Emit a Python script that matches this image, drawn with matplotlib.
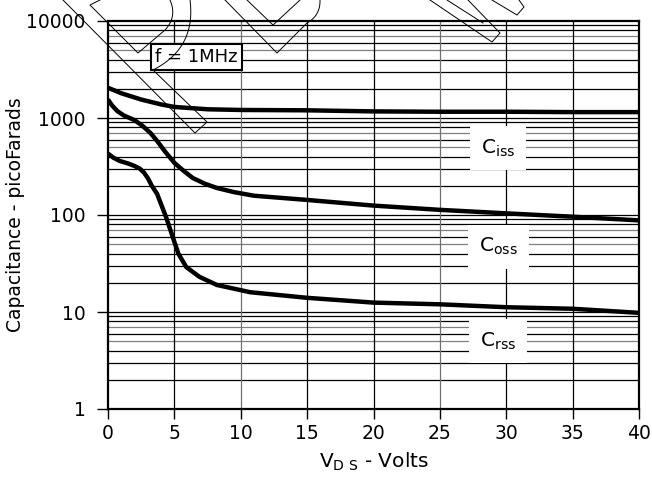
import numpy as np
import matplotlib
matplotlib.use("Agg")
import matplotlib.pyplot as plt
from matplotlib.lines import Line2D

plt.rcParams['font.family'] = ['DejaVu Sans']
plt.rcParams['mathtext.fontset'] = 'dejavusans'

# ---- data ----
vds_iss = [0, 1, 2.5, 4, 5, 7.5, 10, 15, 20, 25, 30, 35, 40]
ciss = [2050, 1800, 1550, 1380, 1300, 1230, 1210, 1200, 1170, 1160, 1160, 1150, 1150]

vds_oss = [0, 0.3, 0.7, 1.2, 2, 2.6, 3.2, 3.7, 4.3, 5, 5.7, 6.4, 7.3, 8.2, 9.5, 11, 15, 20, 25, 30, 35, 40]
coss = [1550, 1350, 1180, 1060, 950, 830, 700, 580, 450, 345, 285, 240, 210, 190, 172, 158, 143, 125, 113, 104, 96, 88]

vds_rss = [0, 0.4, 0.9, 1.5, 2.0, 2.4, 2.7, 3.0, 3.3, 3.7, 4.4, 4.9, 5.3, 5.9, 6.9, 8.2, 10.7, 15, 20, 25, 30, 35, 40]
crss = [430, 390, 360, 340, 320, 300, 275, 240, 200, 165, 93, 58, 40, 29, 23, 19, 16, 14, 12.5, 12, 11.2, 10.8, 9.8]

x_ticks = [0, 5, 10, 15, 20, 25, 30, 35, 40]
y_ticks = [1, 10, 100, 1000, 10000]
y_tick_labels = ['1', '10', '100', '1000', '10000']

labels = [r'C$_{\mathrm{iss}}$', r'C$_{\mathrm{oss}}$', r'C$_{\mathrm{rss}}$']
label_x = 29.4
label_y = [490, 47, 5]

W, H = 652, 480
fig = plt.figure(figsize=(W / 100, H / 100), dpi=100)
L, R, T, B = 108, 639, 21, 409
ax = fig.add_axes([L / W, 1 - B / H, (R - L) / W, (B - T) / H])
ax.set_yscale('log')
ax.set_xlim(0, 40)
ax.set_ylim(1, 10000)

# grid: minor horizontal lines, vertical lines at 5 V
for dec in [1, 10, 100, 1000]:
    for m in range(2, 10):
        col = '#808080' if m in (5, 7) else 'black'
        ax.axhline(dec * m, color=col, lw=0.9, zorder=1)
for d in [10, 100, 1000]:
    ax.axhline(d, color='black', lw=0.9, zorder=1)
for xv in x_ticks[1:-1]:
    col = '#707070' if xv in (10, 25) else 'black'
    ax.axvline(xv, color=col, lw=0.9, zorder=1)

for xs, ys in [(vds_iss, ciss), (vds_oss, coss), (vds_rss, crss)]:
    ax.plot(xs, ys, color='black', lw=3.2, solid_capstyle='butt',
            solid_joinstyle='round', zorder=3)

for lab, ly in zip(labels, label_y):
    ax.text(label_x, ly, lab, fontsize=14.5, ha='center', va='center', zorder=4,
            bbox=dict(facecolor='white', edgecolor='none', pad=8))

ax.text(6.65, 4250, 'f = 1MHz', fontsize=13, ha='center', va='center', zorder=5,
        bbox=dict(facecolor='white', edgecolor='black', lw=1.5, pad=3))

ax.set_xticks(x_ticks)
ax.set_xticklabels([str(v) for v in x_ticks])
ax.set_yticks(y_ticks)
ax.set_yticklabels(y_tick_labels)
ax.yaxis.set_minor_locator(matplotlib.ticker.NullLocator())
ax.tick_params(axis='y', direction='out', length=8, width=1, labelsize=13.5, pad=8)
ax.tick_params(axis='x', direction='out', length=7, width=1, labelsize=13.5, pad=4)
for s in ax.spines.values():
    s.set_linewidth(1.6)

ax.set_ylabel('Capacitance - picoFarads', fontsize=13.5)
ax.set_xlabel(r'V$_{\mathrm{D\ S}}$ - Volts', fontsize=14.5)
ax.yaxis.set_label_coords((16 - L) / (R - L), 0.5)
ax.xaxis.set_label_coords(0.5, (B - 462) / (B - T))
ax.yaxis.label.set_va('center')
ax.xaxis.label.set_va('center')

# decorative watermark outlines (pixel coordinates of the figure)
def pline(pts):
    xs = [p[0] / W for p in pts]
    ys = [1 - p[1] / H for p in pts]
    fig.add_artist(Line2D(xs, ys, transform=fig.transFigure, color='black', lw=0.7, zorder=6))

def arc(p0, p1, bulge, n=30):
    p0 = np.array(p0, float); p1 = np.array(p1, float)
    t = np.linspace(0, 1, n)
    mid = (p0 + p1) / 2
    d = p1 - p0
    nrm = np.array([d[1], -d[0]]) / np.hypot(*d)
    ctrl = mid + nrm * bulge * 2
    pts = [(1 - s) ** 2 * p0 + 2 * (1 - s) * s * ctrl + s ** 2 * p1 for s in t]
    return [tuple(p) for p in pts]

# long tilted bar with curved top
pline([(63, 0), (195, 133), (207, 122), (153, 70)] + arc((153, 70), (190, 0), -14)[1:])
# V with curved arm
pline([(100, 0), (90, 5), (138, 53), (165, 30)] + arc((165, 30), (170, 0), -5)[1:])
# centre V shapes
pline([(247, 0), (273, 25), (300, 0)])
pline([(225, 0), (277, 53), (307, 23)] + arc((307, 23), (320, 0), -4)[1:])
# right tilted bars
pline([(430, 0), (492, 42), (500, 33), (468, 0)])
pline([(447, 0), (483, 23)])
pline([(492, 0), (517, 15), (524, 7), (519, 0)])

fig.savefig('out.png', dpi=100)
